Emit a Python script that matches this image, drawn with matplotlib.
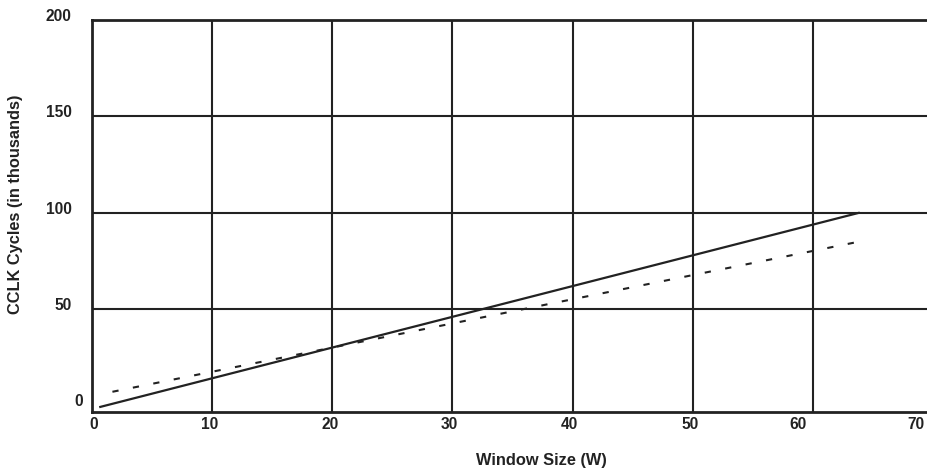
import matplotlib.pyplot as plt
import matplotlib.transforms as mtransforms

# data
window_size = [0.6, 63.9]
cycles_solid = [-1, 100]
window_size_dashed = [1.7, 63.9]
cycles_dashed = [7, 85]

x_ticks = [0, 10, 20, 30, 40, 50, 60, 70]
y_ticks = [0, 50, 100, 150, 200]

plt.rcParams['font.family'] = ['Liberation Sans', 'DejaVu Sans']
plt.rcParams['font.weight'] = 'bold'

W, H = 927, 471
fig = plt.figure(figsize=(W / 100, H / 100), dpi=100)
# the plot runs a little past the right edge of the page, as in the scan
ax = fig.add_axes([92 / W, 59 / H, (933 - 92) / W, (412 - 20) / H])

ink = '#222222'
ax.plot(window_size, cycles_solid, color=ink, lw=1.6, solid_capstyle='butt')
ax.plot(window_size_dashed, cycles_dashed, color=ink, lw=1.5,
        linestyle=(0, (3, 7)))

ax.set_xlim(0, 70)
ax.set_ylim(-3.5, 200)
ax.set_xticks(x_ticks)
ax.set_yticks(y_ticks)

# grid lines drawn through the inside ticks only
for xv in x_ticks[1:-1]:
    ax.axvline(xv, color=ink, lw=1.5, zorder=0)
for yv in y_ticks[1:-1]:
    ax.axhline(yv, color=ink, lw=1.5, zorder=0)

for side in ['left', 'top', 'bottom']:
    ax.spines[side].set_linewidth(2)
    ax.spines[side].set_color(ink)
ax.spines['right'].set_visible(False)

ax.tick_params(length=0, labelsize=11.2, colors=ink)
ax.tick_params(axis='x', pad=3.5)
ax.tick_params(axis='y', pad=14.5)


def shift(lab, dx, dy):
    lab.set_transform(lab.get_transform() +
                      mtransforms.ScaledTranslation(dx / 100, dy / 100, fig.dpi_scale_trans))


# small label offsets of the scanned original (pixels)
x_shift = [1.5, -3, -2, -3, -3, -3, -15, -17]
for lab, dx in zip(ax.get_xticklabels(), x_shift):
    lab.set_fontweight('bold')
    shift(lab, dx, 0)
y_shift = [11, 0, 0, 0, 0]
for lab, dx in zip(ax.get_yticklabels(), y_shift):
    lab.set_fontweight('bold')
    shift(lab, dx, 5)

fig.text(541 / W, 1 - 461 / H, 'Window Size (W)', ha='center', va='center',
         fontsize=11.8, fontweight='bold', color=ink)
fig.text(15.5 / W, 1 - 204 / H, 'CCLK Cycles (in thousands)', ha='center',
         va='center', rotation=90, fontsize=11.8, fontweight='bold', color=ink)

fig.savefig('out.png', dpi=100)
